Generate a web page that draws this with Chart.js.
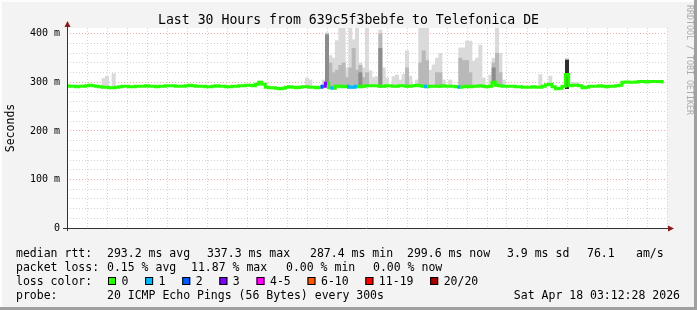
<!DOCTYPE html>
<html><head><meta charset="utf-8">
<script src="https://cdn.jsdelivr.net/npm/chart.js@4.4.1/dist/chart.umd.min.js"></script>
<style>html,body{margin:0;padding:0;background:#f3f3f3;}canvas{display:block;}</style>
</head><body>
<canvas id="c" width="697" height="310"></canvas>
<script>
// ---------- data ----------
const titleText = 'Last 30 Hours from 639c5f3bebfe to Telefonica DE';
const startHour = -2.7;      // first sample, hours relative to Fri 00:00 (Thu 21:18)
const stepMinutes = 10;      // sample spacing

// median RTT in ms, one value per 10-minute slot
const medianRtt = [
  293,292,292,291,292,292,293,294,293,292,
  291,290,290,289,289,290,291,292,292,291,
  291,292,292,292,293,292,292,291,292,292,
  293,293,293,292,292,292,293,294,293,292,
  292,292,291,291,292,293,292,292,291,291,
  292,292,293,293,294,294,293,296,300,296,
  290,289,289,288,287,288,290,291,290,289,
  290,291,291,290,290,289,290,292,298,289,
  288,292,292,291,292,290,290,292,291,292,
  293,293,293,293,292,292,293,293,292,292,
  293,293,292,292,293,294,293,292,291,292,
  292,292,292,293,292,292,292,291,290,291,
  292,291,292,292,293,292,291,292,300,294,
  293,292,292,292,292,291,291,290,290,290,
  291,290,290,292,295,296,291,287,288,292,
  316,293,294,294,293,289,290,292,292,292,
  293,292,291,292,292,293,294,300,301,300,
  300,301,302,302,301,302,302,302,302,301
];

// packet loss (pings lost of 20) for the slots that had loss
const lossSlot  = [0, 77, 78, 80, 85, 86, 87, 108, 118];
const lossCount = [1, 2,  3,  1,  1,  1,  1,  1,   1];

// smoke (spread of the 20 pings) for the slots where it is visible
const smokeSlot = [11,12,14,58,72,73,77,78,79,80,81,82,83,84,85,86,87,88,89,90,91,92,93,94,95,96,98,99,100,101,102,103,105,106,107,108,109,110,111,112,113,115,118,119,120,121,122,123,124,125,127,128,129,130,131,142,145,150,152,153];
const smokeMax  = [308,313,318,303,309,305,305,402,355,350,386,412,412,330,412,388,412,340,330,412,324,310,312,408,330,309,312,315,305,317,365,313,305,412,412,412,325,336,350,360,305,305,371,371,385,385,344,350,377,309,315,350,412,360,305,316,313,350,300,300];
const smokeMid  = [null,null,null,null,null,null,null,400,340,320,325,335,340,310,330,370,325,335,310,320,null,null,null,400,null,null,null,null,null,null,330,null,null,340,365,345,null,null,320,320,null,null,350,345,345,320,null,null,null,null,null,340,360,320,null,null,null,346,null,null];
const smokeDark = [null,null,null,null,null,null,null,398,null,null,null,null,null,null,null,null,null,320,null,null,null,null,null,370,null,null,null,null,null,null,null,null,null,null,null,null,null,null,null,null,null,null,null,null,null,null,null,null,null,null,null,330,null,null,null,null,null,null,null,null];
const smokeBlackSlot = [150];
const smokeBlackLow  = [287];
const smokeBlackTop  = [346];

const xTickHours  = [0, 6, 12, 18, 24];
const xTickLabels = ['Fri 00:00', 'Fri 06:00', 'Fri 12:00', 'Fri 18:00', 'Sat 00:00'];
const yTickValues = [0, 100, 200, 300, 400];
const yTickLabels = ['0', '100 m', '200 m', '300 m', '400 m'];

const rttLegend  = ['median rtt:', '293.2 ms avg', '337.3 ms max', '287.4 ms min', '299.6 ms now', '3.9 ms sd', '76.1', 'am/s'];
const lossLegend = ['packet loss:', '0.15 % avg', '11.87 % max', '0.00 % min', '0.00 % now'];
const lossLegendLabels = ['0', '1', '2', '3', '4-5', '6-10', '11-19', '20/20'];
const lossLegendLimits = [0, 1, 2, 3, 5, 10, 19, 20];
const lossLegendColors = ['#26ff00', '#00b8ff', '#0059ff', '#7e00ff', '#ff00ff', '#ff5500', '#ff0000', '#a00000'];
const probeText = '20 ICMP Echo Pings (56 Bytes) every 300s';
const dateText  = 'Sat Apr 18 03:12:28 2026';

// ---------- build ----------
const MONO = '"DejaVu Sans Mono", "Liberation Mono", monospace';
const hourOf = i => startHour + i * stepMinutes / 60;
const lossAt = medianRtt.map(() => 0);
lossSlot.forEach((s, k) => { lossAt[s] = lossCount[k]; });
const lossColorFor = n => {
  for (let k = 0; k < lossLegendLimits.length; k++) if (n <= lossLegendLimits[k]) return lossLegendColors[k];
  return lossLegendColors[lossLegendColors.length - 1];
};
function smokeLayer(tops) {
  const out = [];
  smokeSlot.forEach((s, k) => { if (tops[k] != null) out.push({x: hourOf(s), y: [medianRtt[s] - 2, tops[k]]}); });
  return out;
}
const blackLayer = smokeBlackSlot.map((s, k) => ({x: hourOf(s), y: [smokeBlackLow[k], smokeBlackTop[k]]}));
const lineData = medianRtt.map((v, i) => ({x: hourOf(i), y: v}));

const majorGrid = '#f0a8a8';
const minorGrid = '#d4d4d4';
const barCommon = {type: 'bar', grouped: false, barPercentage: 1, categoryPercentage: 1, borderWidth: 0};

const decor = {
  id: 'decor',
  beforeDraw(chart) {
    const {ctx, chartArea: a} = chart;
    ctx.save();
    ctx.fillStyle = '#f3f3f3';
    ctx.fillRect(0, 0, chart.width, chart.height);
    ctx.fillStyle = '#ffffff';
    ctx.fillRect(a.left, a.top, a.right - a.left, a.bottom - a.top);
    ctx.restore();
  },
  afterDraw(chart) {
    const {ctx, chartArea: a} = chart;
    ctx.save();
    // axes
    ctx.strokeStyle = '#333333';
    ctx.lineWidth = 1;
    ctx.beginPath();
    ctx.moveTo(a.left + 0.5, a.bottom + 3);
    ctx.lineTo(a.left + 0.5, a.top - 4);
    ctx.moveTo(a.left - 4, a.bottom + 0.5);
    ctx.lineTo(a.right + 3, a.bottom + 0.5);
    ctx.stroke();
    // arrows
    ctx.fillStyle = '#8b1a1a';
    ctx.beginPath();
    ctx.moveTo(a.left - 2.5, a.top - 1);
    ctx.lineTo(a.left + 3.5, a.top - 1);
    ctx.lineTo(a.left + 0.5, a.top - 7);
    ctx.closePath();
    ctx.fill();
    ctx.beginPath();
    ctx.moveTo(a.right + 1, a.bottom - 2.5);
    ctx.lineTo(a.right + 1, a.bottom + 3.5);
    ctx.lineTo(a.right + 7, a.bottom + 0.5);
    ctx.closePath();
    ctx.fill();

    // legend texts
    ctx.fillStyle = '#000000';
    ctx.font = '11.5px ' + MONO;
    ctx.textBaseline = 'middle';
    ctx.textAlign = 'left';
    const rttX = [16, 107, 207, 310, 407, 507, 587, 636];
    rttLegend.forEach((t, k) => ctx.fillText(t, rttX[k], 254));
    const lossX = [16, 107, 191, 286, 373];
    lossLegend.forEach((t, k) => ctx.fillText(t, lossX[k], 268));
    ctx.fillText('loss color:', 16, 282);
    let bx = 108;
    lossLegendLabels.forEach((lab, k) => {
      ctx.fillStyle = lossLegendColors[k];
      ctx.fillRect(bx, 277, 8, 8);
      ctx.strokeStyle = '#000000';
      ctx.strokeRect(bx + 0.5, 277.5, 7, 7);
      ctx.fillStyle = '#000000';
      const lx = bx + 13.5;
      ctx.fillText(lab, lx, 282);
      bx = lx + ctx.measureText(lab).width + 16.7;
    });
    ctx.fillText('probe:', 16, 296);
    ctx.fillText(probeText, 107, 296);
    ctx.textAlign = 'right';
    ctx.fillText(dateText, 680, 296);

    // watermark
    ctx.save();
    ctx.translate(689, 5);
    ctx.rotate(Math.PI / 2);
    ctx.textAlign = 'left';
    ctx.fillStyle = '#aaaaaa';
    ctx.font = '8.3px ' + MONO;
    ctx.fillText('RRDTOOL / TOBI OETIKER', 0, 0);
    ctx.restore();

    // frame
    ctx.fillStyle = '#fdfdfd';
    ctx.fillRect(0, 0, chart.width, 2);
    ctx.fillRect(0, 0, 2, chart.height);
    ctx.fillStyle = '#a0a0a0';
    ctx.fillRect(0, chart.height - 3, chart.width, 3);
    ctx.fillRect(chart.width - 3, 0, 3, chart.height);
    ctx.restore();
  }
};

new Chart(document.getElementById('c'), {
  type: 'bar',
  data: {
    datasets: [
      Object.assign({}, barCommon, {data: smokeLayer(smokeMax),  backgroundColor: '#dadada', order: 5}),
      Object.assign({}, barCommon, {data: smokeLayer(smokeMid),  backgroundColor: '#b8b8b8', order: 4}),
      Object.assign({}, barCommon, {data: smokeLayer(smokeDark), backgroundColor: '#8c8c8c', order: 3}),
      Object.assign({}, barCommon, {data: blackLayer,            backgroundColor: '#2e2e2e', order: 2}),
      {
        type: 'line', data: lineData, order: 1,
        borderColor: lossLegendColors[0], borderWidth: 3, pointRadius: 0, stepped: 'middle',
        segment: {borderColor: c => lossColorFor(lossAt[c.p1DataIndex])}
      }
    ]
  },
  options: {
    responsive: false,
    animation: false,
    events: [],
    devicePixelRatio: 1,
    layout: {padding: 0},
    plugins: {
      legend: {display: false},
      tooltip: {enabled: false},
      title: {
        display: true, text: titleText, color: '#000000',
        font: {family: MONO, size: 13.2, weight: 'normal', lineHeight: 1.2},
        padding: {top: 12.16, bottom: 0}
      }
    },
    scales: {
      x: {
        type: 'linear', min: -2.7, max: 27.3, offset: false,
        afterFit: s => { s.height = 82; },
        grid: {
          offset: false, lineWidth: 1, drawTicks: true, tickLength: 3,
          color: c => (c.tick && Math.abs(c.tick.value % 3) === 0) ? majorGrid : minorGrid,
          tickColor: c => (c.tick && Math.abs(c.tick.value % 3) === 0) ? '#333333' : 'rgba(0,0,0,0)'
        },
        border: {display: false, dash: [1, 2]},
        ticks: {
          stepSize: 1, autoSkip: false, includeBounds: false, maxRotation: 0, minRotation: 0,
          padding: 0, color: '#000000', font: {family: MONO, size: 10},
          callback: v => { const k = xTickHours.indexOf(v); return k >= 0 ? xTickLabels[k] : ''; }
        }
      },
      y: {
        type: 'linear', min: 0, max: 412,
        afterFit: s => { s.width = 67; },
        grid: {
          lineWidth: 1, drawTicks: false,
          color: c => (c.tick && c.tick.value % 100 === 0) ? majorGrid : minorGrid
        },
        border: {display: false, dash: [1, 2]},
        ticks: {
          stepSize: 20, autoSkip: false, includeBounds: false, padding: 7,
          color: '#000000', font: {family: MONO, size: 10},
          callback: v => { const k = yTickValues.indexOf(v); return k >= 0 ? yTickLabels[k] : ''; }
        },
        title: {
          display: true, text: 'Seconds', color: '#000000',
          font: {family: MONO, size: 11.5}, padding: {top: 4, bottom: 0}
        }
      },
      yR: {
        type: 'linear', position: 'right', display: true,
        grid: {display: false, drawTicks: false},
        border: {display: false},
        ticks: {display: false},
        afterFit: s => { s.width = 30; }
      }
    }
  },
  plugins: [decor]
});
</script>
</body></html>
